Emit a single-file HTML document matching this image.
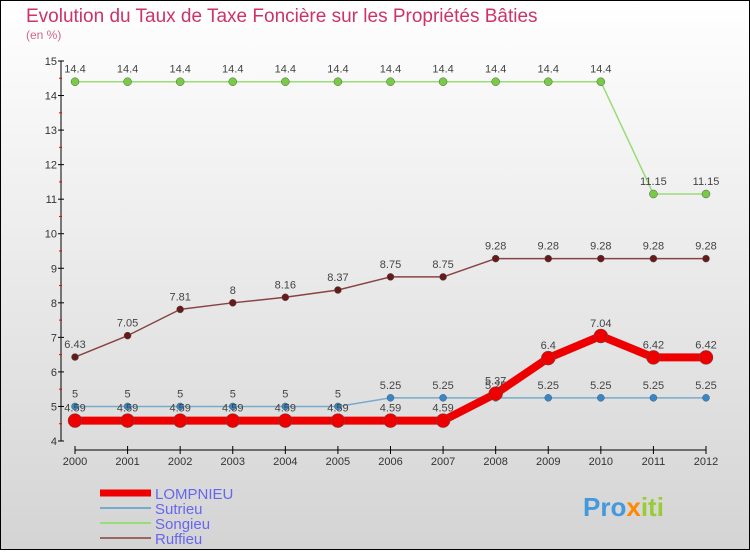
<!DOCTYPE html>
<html><head><meta charset="utf-8"><style>
body{margin:0;width:750px;height:550px;overflow:hidden;font-family:"Liberation Sans",sans-serif}
</style></head><body>
<svg width="750" height="550" xmlns="http://www.w3.org/2000/svg">
<defs><linearGradient id="bg" x1="0" y1="0" x2="0" y2="1"><stop offset="0" stop-color="#ffffff"/><stop offset="1" stop-color="#d4d4d4"/></linearGradient></defs>
<rect x="0.5" y="0.5" width="749" height="549" fill="url(#bg)" stroke="#000"/>
<text x="26" y="22" font-size="19" fill="#cc3366">Evolution du Taux de Taxe Foncière sur les Propriétés Bâties</text>
<text x="26" y="39" font-size="12" fill="#cc6688">(en %)</text>
<g id="axes"></g>
<g id="series"></g>
<g id="legend"></g>
<text x="583" y="516" font-size="26" font-weight="bold" fill="#4499dd">Pro<tspan fill="#ff8800">x</tspan><tspan fill="#99cc33">iti</tspan></text>
</svg>
<script>
const years=[2000,2001,2002,2003,2004,2005,2006,2007,2008,2009,2010,2011,2012];
const lompnieu=[4.59,4.59,4.59,4.59,4.59,4.59,4.59,4.59,5.37,6.4,7.04,6.42,6.42];
const sutrieu=[5,5,5,5,5,5,5.25,5.25,5.25,5.25,5.25,5.25,5.25];
const songieu=[14.4,14.4,14.4,14.4,14.4,14.4,14.4,14.4,14.4,14.4,14.4,11.15,11.15];
const ruffieu=[6.43,7.05,7.81,8,8.16,8.37,8.75,8.75,9.28,9.28,9.28,9.28,9.28];
const yTicks=[4,5,6,7,8,9,10,11,12,13,14,15];
const NS="http://www.w3.org/2000/svg";
const xs=i=>75+i*(706-75)/(years.length-1);
const ys=v=>441-(v-4)*(441-61)/11;
function mk(t,a,p){const e=document.createElementNS(NS,t);for(const k in a)e.setAttribute(k,a[k]);p.appendChild(e);return e;}
const ax=document.getElementById('axes');
const ya=mk('line',{x1:61,y1:61,x2:61,y2:441,stroke:'#000'},ax);

yTicks.forEach(v=>{
 mk('line',{x1:58,y1:ys(v),x2:64,y2:ys(v),stroke:'#000'},ax);
 if(v<15)mk('line',{x1:59,y1:ys(v+0.5),x2:62,y2:ys(v+0.5),stroke:'#e00'},ax);
 const t=mk('text',{x:57,y:ys(v)+4,'font-size':11,fill:'#333','text-anchor':'end'},ax);t.textContent=v;
 
});
const xa=mk('line',{x1:75,y1:450,x2:706,y2:450,stroke:'#000'},ax);

years.forEach((y,i)=>{
 mk('line',{x1:xs(i),y1:446,x2:xs(i),y2:454,stroke:'#000'},ax);
 const t=mk('text',{x:xs(i),y:465,'font-size':11,fill:'#333','text-anchor':'middle'},ax);t.textContent=y;
 
});
const sg=document.getElementById('series');
function series(name,data,color,width,ptColor,r,labelDy,lblColor){
 const g=mk('g',{},sg);
 
 mk('polyline',{points:data.map((v,i)=>xs(i)+','+ys(v)).join(' '),fill:'none',stroke:color,'stroke-width':width,'stroke-linejoin':'round'},g);
 data.forEach((v,i)=>{
  const c=mk('circle',{cx:xs(i),cy:ys(v),r:r,fill:ptColor,stroke:'#555','stroke-width':0.5},g);
  
  const t=mk('text',{x:xs(i),y:ys(v)+labelDy,'font-size':11,fill:lblColor,'text-anchor':'middle'},g);t.textContent=v;
  
 });
}
series('songieu',songieu,'#99dd77',1.5,'#77cc44',4,-9,'#444');
series('ruffieu',ruffieu,'#884444',1.5,'#661a1a',3.5,-9,'#444');
series('sutrieu',sutrieu,'#77aacc',1.5,'#3388cc',3.5,-9,'#444');
series('lompnieu',lompnieu,'#ee0000',8,'#ee0000',7,-9,'#444');
const lg=document.getElementById('legend');
const items=[['LOMPNIEU','#ee0000',7],['Sutrieu','#77aacc',2],['Songieu','#99dd77',2],['Ruffieu','#996666',2]];
items.forEach((it,i)=>{
 const y=493+i*15;
 const g=mk('g',{},lg);
 
 mk('line',{x1:100,y1:y,x2:151,y2:y,stroke:it[1],'stroke-width':it[2]},g);
 const t=mk('text',{x:155,y:y+6,'font-size':15,fill:'#6666ee'},g);t.textContent=it[0];
});
</script>
</body></html>
